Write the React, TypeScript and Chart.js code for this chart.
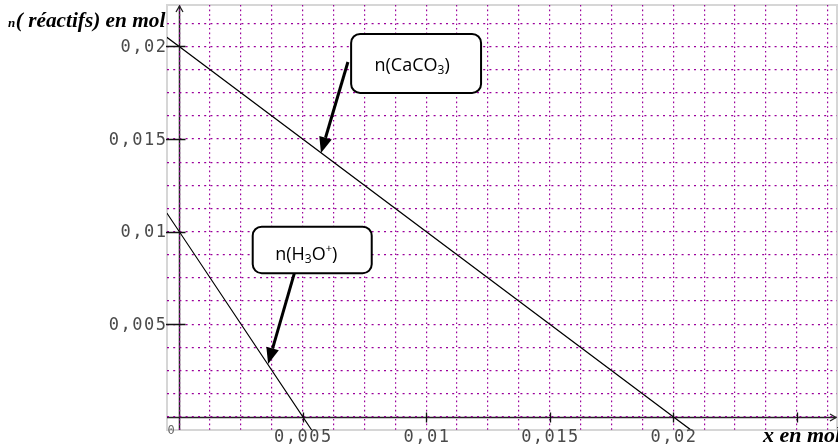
import React, { useEffect, useRef } from 'react';
import { Chart, registerables } from 'chart.js';

Chart.register(...registerables);

// ---- data ----
const xMin = -0.000494;
const xMax = 0.02663;
const yMin = -0.00072;
const yMax = 0.02224;
const gridStep = 0.00125;

const caco3X = [-0.0005, 0, 0.02, 0.0208];
const caco3Y = [0.0205, 0.02, 0, -0.0008];
const h3oX = [-0.0005, 0, 0.005, 0.0054];
const h3oY = [0.011, 0.01, 0, -0.0008];

const yTickValues = [0.005, 0.01, 0.015, 0.02];
const yTickLabels = ['0,005', '0,01', '0,015', '0,02'];
const xTickValues = [0.005, 0.01, 0.015, 0.02, 0.025];
const xTickLabels = ['0,005', '0,01', '0,015', '0,02', ''];

const yTitle = ['n', '( réactifs) en mol'];
const xTitle = 'x en mol';

// annotation boxes (data coordinates)
const caco3Box = [0.00696, 0.02068, 0.01222, 0.01749];
const caco3Arrow = [0.00683, 0.01916, 0.00574, 0.01424];
const caco3Text = ['n(CaCO', '3', ')'];
const h3oBox = [0.002976, 0.010265, 0.007794, 0.007747];
const h3oArrow = [0.00466, 0.00774, 0.0036, 0.00285];
const h3oText = ['n(H', '3', 'O', '+', ')'];

const GRID = 'rgb(155,0,155)';
const LABEL_FONT = '17px "DejaVu Sans Mono"';
const NOTE_FONT = '"Open Sans"';

function drawArrow(ctx: CanvasRenderingContext2D, x1: number, y1: number, x2: number, y2: number) {
  const ang = Math.atan2(y2 - y1, x2 - x1);
  const headLen = 16, headW = 6.5;
  const bx = x2 - headLen * Math.cos(ang);
  const by = y2 - headLen * Math.sin(ang);
  ctx.beginPath();
  ctx.moveTo(x1, y1);
  ctx.lineTo(bx, by);
  ctx.lineWidth = 3;
  ctx.strokeStyle = '#000';
  ctx.stroke();
  ctx.beginPath();
  ctx.moveTo(x2, y2);
  ctx.lineTo(bx + headW * Math.sin(ang), by - headW * Math.cos(ang));
  ctx.lineTo(bx - headW * Math.sin(ang), by + headW * Math.cos(ang));
  ctx.closePath();
  ctx.fillStyle = '#000';
  ctx.fill();
}

type Piece = { t: string; size: number; dy: number };

function drawPieces(ctx: CanvasRenderingContext2D, pieces: Piece[], cx: number, baseline: number) {
  let total = 0;
  for (const p of pieces) {
    ctx.font = `${p.size}px ${NOTE_FONT}`;
    total += ctx.measureText(p.t).width;
  }
  let x = cx - total / 2;
  ctx.textAlign = 'left';
  ctx.textBaseline = 'alphabetic';
  ctx.fillStyle = '#000';
  for (const p of pieces) {
    ctx.font = `${p.size}px ${NOTE_FONT}`;
    ctx.fillText(p.t, x, baseline + p.dy);
    x += ctx.measureText(p.t).width;
  }
}

const overlay = {
  id: 'overlay',
  beforeDraw(chart: any) {
    const { ctx, chartArea: a, scales } = chart;
    const xs = scales.x, ys = scales.y;
    const x0 = xs.getPixelForValue(0);
    const y0 = ys.getPixelForValue(0);
    ctx.save();
    ctx.fillStyle = '#fff';
    ctx.fillRect(0, 0, chart.width, chart.height);
    // frame
    ctx.strokeStyle = '#d6d6d6';
    ctx.lineWidth = 2;
    ctx.strokeRect(a.left, a.top, a.right - a.left, a.bottom - a.top);
    // axes
    ctx.strokeStyle = '#222';
    ctx.lineWidth = 1.5;
    ctx.beginPath();
    ctx.moveTo(Math.round(x0) + 0.5, a.bottom);
    ctx.lineTo(Math.round(x0) + 0.5, a.top + 1);
    ctx.moveTo(a.left, Math.round(y0) + 0.5);
    ctx.lineTo(a.right - 1, Math.round(y0) + 0.5);
    ctx.stroke();
    ctx.restore();
  },
  afterDraw(chart: any) {
    const { ctx, chartArea: a, scales } = chart;
    const xs = scales.x, ys = scales.y;
    const x0 = Math.round(xs.getPixelForValue(0)) + 0.5;
    const y0 = Math.round(ys.getPixelForValue(0)) + 0.5;
    ctx.save();
    // axis arrowheads (open)
    ctx.strokeStyle = '#222';
    ctx.lineWidth = 1.3;
    ctx.beginPath();
    ctx.moveTo(x0 - 3.5, a.top + 7);
    ctx.lineTo(x0, a.top + 1);
    ctx.lineTo(x0 + 3.5, a.top + 7);
    ctx.moveTo(a.right - 7, y0 - 3.5);
    ctx.lineTo(a.right - 1, y0);
    ctx.lineTo(a.right - 7, y0 + 3.5);
    ctx.stroke();

    // tick marks
    ctx.strokeStyle = '#111';
    ctx.lineWidth = 1.3;
    ctx.beginPath();
    for (const v of yTickValues) {
      const py = Math.round(ys.getPixelForValue(v)) + 0.5;
      ctx.moveTo(a.left - 1, py);
      ctx.lineTo(x0 + 6, py);
    }
    for (const v of xTickValues) {
      const px = Math.round(xs.getPixelForValue(v)) + 0.5;
      ctx.moveTo(px, y0 - 5);
      ctx.lineTo(px, y0 + 5);
    }
    ctx.stroke();

    // tick labels
    ctx.fillStyle = '#4a4a4a';
    ctx.font = LABEL_FONT;
    (ctx as any).letterSpacing = '1.5px';
    ctx.textBaseline = 'middle';
    ctx.textAlign = 'right';
    yTickValues.forEach((v, i) => {
      const py = ys.getPixelForValue(v);
      ctx.fillText(yTickLabels[i], a.left + 0.5, py + 1.5);
    });
    ctx.textAlign = 'center';
    ctx.textBaseline = 'alphabetic';
    xTickValues.forEach((v, i) => {
      if (!xTickLabels[i]) return;
      const px = xs.getPixelForValue(v);
      ctx.fillText(xTickLabels[i], px + 0.75, a.bottom + 11.5);
    });
    (ctx as any).letterSpacing = '0px';
    ctx.font = '12px "DejaVu Sans Mono"';
    ctx.fillStyle = '#666';
    ctx.textAlign = 'left';
    ctx.fillText('0', a.left + 0.5, a.bottom + 3.5);

    // axis titles
    ctx.fillStyle = '#000';
    ctx.textAlign = 'left';
    ctx.font = 'italic bold 13px "Liberation Serif"';
    ctx.fillText(yTitle[0], 8, 26.5);
    const nW = ctx.measureText(yTitle[0]).width;
    ctx.font = 'italic bold 21.3px "Liberation Serif"';
    ctx.fillText(yTitle[1], 8 + nW + 0.5, 26.5);
    ctx.font = 'italic bold 22px "Liberation Serif"';
    ctx.fillText(xTitle, 763, 441.5);

    // annotation boxes
    const boxes = [
      { box: caco3Box, arrow: caco3Arrow, dx: -4, dy: 7.5,
        pieces: [
          { t: caco3Text[0], size: 18, dy: 0 },
          { t: caco3Text[1], size: 12, dy: 3 },
          { t: caco3Text[2], size: 18, dy: 0 },
        ] },
      { box: h3oBox, arrow: h3oArrow, dx: -6, dy: 10.5,
        pieces: [
          { t: h3oText[0], size: 18, dy: 0 },
          { t: h3oText[1], size: 12, dy: 3 },
          { t: h3oText[2], size: 18, dy: 0 },
          { t: h3oText[3], size: 11, dy: -8 },
          { t: h3oText[4], size: 18, dy: 0 },
        ] },
    ];
    for (const b of boxes) {
      const bx1 = xs.getPixelForValue(b.box[0]);
      const by1 = ys.getPixelForValue(b.box[1]);
      const bx2 = xs.getPixelForValue(b.box[2]);
      const by2 = ys.getPixelForValue(b.box[3]);
      ctx.beginPath();
      (ctx as any).roundRect(bx1, by1, bx2 - bx1, by2 - by1, 9);
      ctx.fillStyle = '#fff';
      ctx.fill();
      ctx.lineWidth = 2;
      ctx.strokeStyle = '#000';
      ctx.stroke();
      drawPieces(ctx, b.pieces, (bx1 + bx2) / 2 + b.dx, (by1 + by2) / 2 + b.dy);
      drawArrow(
        ctx,
        xs.getPixelForValue(b.arrow[0]), ys.getPixelForValue(b.arrow[1]),
        xs.getPixelForValue(b.arrow[2]), ys.getPixelForValue(b.arrow[3])
      );
    }
    ctx.restore();
  },
};

export default function App() {
  const ref = useRef<HTMLCanvasElement | null>(null);
  useEffect(() => {
    if (!ref.current) return;
    const chart = new Chart(ref.current, {
      type: 'line',
      data: {
        datasets: [
          {
            label: 'n(CaCO3)',
            data: caco3X.map((x, i) => ({ x, y: caco3Y[i] })),
            borderColor: '#000',
            borderWidth: 1.3,
            pointRadius: 0,
            tension: 0,
          },
          {
            label: 'n(H3O+)',
            data: h3oX.map((x, i) => ({ x, y: h3oY[i] })),
            borderColor: '#000',
            borderWidth: 1.1,
            pointRadius: 0,
            tension: 0,
          },
        ],
      },
      options: {
        animation: false,
        responsive: false,
        maintainAspectRatio: false,
        events: [],
        layout: { padding: { left: 167, top: 5, right: 1, bottom: 15 } },
        plugins: { legend: { display: false }, tooltip: { enabled: false } },
        scales: {
          x: {
            type: 'linear',
            min: xMin,
            max: xMax,
            ticks: { display: false, stepSize: gridStep, includeBounds: false },
            grid: { color: GRID, lineWidth: 1.2, drawTicks: false },
            border: { display: false, dash: [1.6, 3] },
            afterFit: (s: any) => { s.height = 0; },
          },
          y: {
            type: 'linear',
            min: yMin,
            max: yMax,
            ticks: { display: false, stepSize: gridStep, includeBounds: false },
            grid: { color: GRID, lineWidth: 1.2, drawTicks: false },
            border: { display: false, dash: [2, 4.2] },
            afterFit: (s: any) => { s.width = 0; },
          },
        },
      } as any,
      plugins: [overlay],
    });
    return () => chart.destroy();
  }, []);
  return (
    <div style={{ position: 'fixed', left: 0, top: 0, width: 838, height: 445, background: '#fff' }}>
      <canvas ref={ref} width={838} height={445} style={{ display: 'block' }} />
    </div>
  );
}
